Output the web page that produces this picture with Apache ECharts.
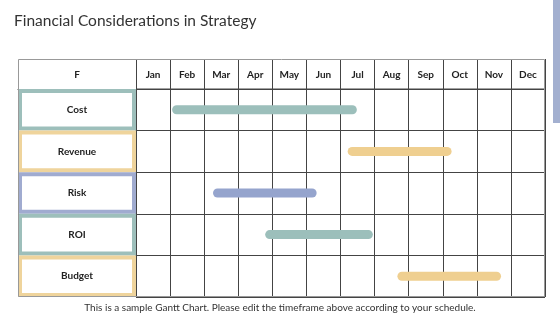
<!DOCTYPE html>
<html>
<head>
<meta charset="utf-8">
<script src="https://cdn.jsdelivr.net/npm/echarts@6/dist/echarts.min.js"></script>
<style>
  html, body { margin: 0; padding: 0; background: #fff; }
  #chart { width: 560px; height: 315px; }
</style>
</head>
<body>
<div id="chart"></div>
<script>
// table data
const months = ["Jan", "Feb", "Mar", "Apr", "May", "Jun", "Jul", "Aug", "Sep", "Oct", "Nov", "Dec"];
const tasks = ["Cost", "Revenue", "Risk", "ROI", "Budget"];
// start / end in month units (0 = start of Jan)
const taskStart = [1.06, 6.21, 2.26, 3.79, 7.67];
const taskEnd = [6.48, 9.26, 5.30, 6.95, 10.71];
const taskColors = ["#9cbfbb", "#efcf90", "#95a4cd", "#9cbfbb", "#efcf90"];
const boxColors = ["#9dbfbb", "#efd49c", "#a0abd0", "#9dbfbb", "#efd49c"];

const FONT = "Lato";
const LINE = "#444";

const chart = echarts.init(document.getElementById("chart"), null, { renderer: "canvas" });

const option = {
  animation: false,
  backgroundColor: "#fff",
  title: [
    {
      text: "Financial Considerations in Strategy",
      left: 9,
      top: 8,
      textStyle: { fontFamily: FONT, fontSize: 15.5, fontWeight: "normal", color: "#333" }
    },
    {
      text: "This is a sample Gantt Chart. Please edit the timeframe above according to your schedule.",
      left: "center",
      top: 298,
      textStyle: { fontFamily: FONT, fontSize: 10, fontWeight: "normal", color: "#333" }
    }
  ],
  graphic: [
    { type: "rect", shape: { x: 553, y: 0, width: 7, height: 123 }, style: { fill: "#a3b0d0" } },
    { type: "rect", z: 10, shape: { x: 18.5, y: 59.5, width: 526, height: 237 }, style: { fill: null, stroke: "#999", lineWidth: 1 } }
  ],
  grid: [
    { left: 136, right: 15, top: 89, bottom: 18, show: true, borderColor: LINE, borderWidth: 1 },
    { left: 18, width: 118, top: 89, bottom: 18 }
  ],
  xAxis: [
    {
      type: "value", gridIndex: 0, min: 0, max: 12, interval: 1,
      axisLine: { show: false }, axisTick: { show: false }, axisLabel: { show: false },
      splitLine: { show: true, lineStyle: { color: LINE, width: 1 } }
    },
    {
      type: "category", gridIndex: 0, data: months, position: "top", boundaryGap: true,
      axisLine: { show: true, lineStyle: { color: LINE, width: 1 } },
      axisTick: { show: true, length: 30, lineStyle: { color: LINE, width: 1 } },
      axisLabel: { margin: 9, fontFamily: FONT, fontSize: 10, fontWeight: "bold", color: "#222" },
      splitLine: { show: false }
    },
    {
      type: "category", gridIndex: 1, data: ["F"], position: "top", boundaryGap: true,
      axisLine: { show: true, lineStyle: { color: LINE, width: 1 } },
      axisTick: { show: false },
      axisLabel: { margin: 9, fontFamily: FONT, fontSize: 10, fontWeight: "bold", color: "#222" }
    }
  ],
  yAxis: [
    {
      type: "category", gridIndex: 0, data: tasks, inverse: true,
      axisLine: { show: false }, axisTick: { show: false }, axisLabel: { show: false },
      splitLine: { show: true, lineStyle: { color: LINE, width: 1 } }
    },
    {
      type: "category", gridIndex: 1, data: tasks, inverse: true,
      axisLine: { show: false }, axisTick: { show: false }, axisLabel: { show: false },
      splitLine: { show: false }
    }
  ],
  series: [
    {
      // label boxes on the left
      type: "custom",
      xAxisIndex: 2,
      yAxisIndex: 1,
      data: tasks.map((t, i) => [0, i]),
      renderItem(params, api) {
        const c = api.coord([api.value(0), api.value(1)]);
        const s = api.size([1, 1]);
        const i = params.dataIndex;
        return {
          type: "group",
          children: [
            {
              type: "rect",
              shape: { x: c[0] - s[0] / 2 + 2, y: c[1] - s[1] / 2 + 2, width: s[0] - 4, height: s[1] - 4 },
              style: { fill: "#fff", stroke: boxColors[i], lineWidth: 4 }
            },
            {
              type: "text",
              style: {
                x: c[0], y: c[1], text: tasks[i], align: "center", verticalAlign: "middle",
                fontFamily: FONT, fontSize: 10, fontWeight: "bold", fill: "#222"
              }
            }
          ]
        };
      }
    },
    {
      // gantt bars
      type: "custom",
      xAxisIndex: 0,
      yAxisIndex: 0,
      z: 5,
      data: tasks.map((t, i) => [taskStart[i], taskEnd[i], i]),
      renderItem(params, api) {
        const a = api.coord([api.value(0), api.value(2)]);
        const b = api.coord([api.value(1), api.value(2)]);
        const h = 9;
        return {
          type: "rect",
          shape: { x: a[0], y: a[1] - h / 2, width: b[0] - a[0], height: h, r: h / 2 },
          style: { fill: taskColors[params.dataIndex] }
        };
      }
    }
  ]
};

chart.setOption(option);
</script>
</body>
</html>
